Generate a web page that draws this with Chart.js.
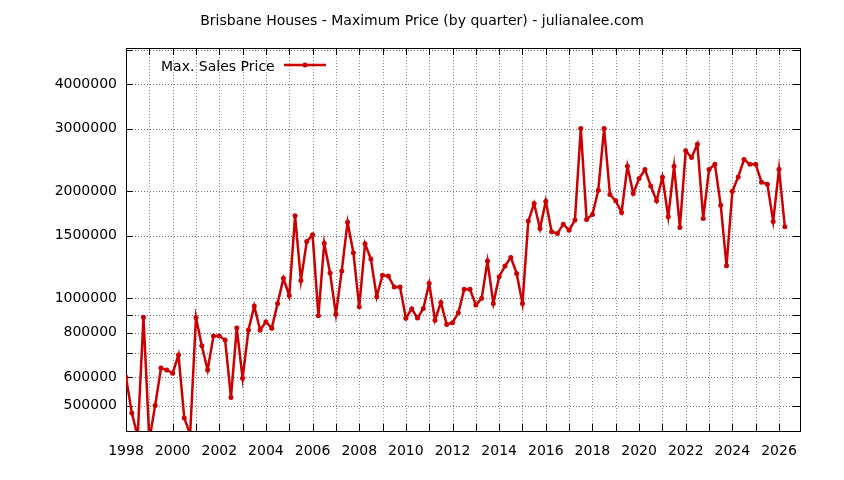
<!DOCTYPE html>
<html>
<head>
<meta charset="utf-8">
<script src="https://cdn.jsdelivr.net/npm/chart.js@4/dist/chart.umd.min.js"></script>
<style>
    html, body { margin: 0; padding: 0; background: #fff; }
    #wrap { width: 844px; height: 480px; }
</style>
</head>
<body>
<div id="wrap"><canvas id="chart" width="844" height="480"></canvas></div>
<script>
const chartTitle = 'Brisbane Houses - Maximum Price (by quarter) - julianalee.com';
const seriesName = 'Max. Sales Price';
const startYear = 1998;

// one value per quarter, 1998 Q1 .. 2026 Q2
const maxPrice = [
    600000, 476000, 410000, 885000, 400000, 500000, 637000, 629000,
    616000, 693000, 461000, 415000, 884000, 736000, 629000, 784000,
    784000, 764000, 527000, 825000, 596000, 815000, 951000, 815000,
    860000, 824000, 968000, 1138000, 1019000, 1705000, 1123000, 1445000,
    1508000, 894000, 1429000, 1178000, 902000, 1193000, 1637000, 1343000,
    947000, 1423000, 1289000, 1010000, 1162000, 1155000, 1076000, 1076000,
    879000, 935000, 880000, 937000, 1102000, 868000, 974000, 845000,
    854000, 911000, 1060000, 1060000, 958000, 1000000, 1273000, 968000,
    1150000, 1232000, 1303000, 1175000, 968000, 1648000, 1847000, 1572000,
    1875000, 1538000, 1522000, 1616000, 1554000, 1659000, 3000000, 1666000,
    1721000, 2013000, 3000000, 1958000, 1879000, 1743000, 2350000, 1971000,
    2171000, 2301000, 2070000, 1879000, 2190000, 1694000, 2350000, 1582000,
    2596000, 2487000, 2710000, 1677000, 2301000, 2381000, 1827000, 1235000,
    2000000, 2194000, 2455000, 2381000, 2381000, 2120000, 2093000, 1645000,
    2306000, 1588000
];

const xTickYears = [
    1998, 1999, 2000, 2001, 2002, 2003, 2004, 2005, 2006, 2007,
    2008, 2009, 2010, 2011, 2012, 2013, 2014, 2015, 2016, 2017,
    2018, 2019, 2020, 2021, 2022, 2023, 2024, 2025, 2026
];
const xLabelYears = [1998, 2000, 2002, 2004, 2006, 2008, 2010, 2012, 2014, 2016, 2018, 2020, 2022, 2024, 2026];

const yTickValues = [500000, 600000, 700000, 800000, 900000, 1000000, 1500000, 2000000, 3000000, 4000000, 5000000];
const yLabelValues = [500000, 600000, 800000, 1000000, 1500000, 2000000, 3000000, 4000000];

const FONT = '"DejaVu Sans", sans-serif';
const RED = '#cc0000';

const points = maxPrice.map((v, i) => ({ x: startYear + i / 4, y: v }));

// gnuplot-like frame: dotted grid, solid border, inward ticks on all four sides
const framePlugin = {
    id: 'frame',
    beforeDatasetsDraw(chart) {
        const { ctx, chartArea: a, scales } = chart;
        const xs = scales.x, ys = scales.y;
        ctx.save();
        ctx.lineWidth = 1;
        ctx.strokeStyle = '#909090';
        ctx.setLineDash([1, 2]);
        xTickYears.forEach(v => {
            const px = Math.round(xs.getPixelForValue(v)) + 0.5;
            if (px <= a.left + 1 || px >= a.right - 1) return;
            ctx.beginPath();
            ctx.moveTo(px, a.top);
            ctx.lineTo(px, a.bottom);
            ctx.stroke();
        });
        ctx.strokeStyle = '#707070';
        yTickValues.forEach(v => {
            const py = Math.round(ys.getPixelForValue(v)) + 0.5;
            if (py <= a.top + 1 || py >= a.bottom - 1) return;
            ctx.beginPath();
            ctx.moveTo(a.left, py);
            ctx.lineTo(a.right, py);
            ctx.stroke();
        });
        ctx.setLineDash([]);
        ctx.strokeStyle = '#000';
        const tick = 7;
        ctx.beginPath();
        xTickYears.forEach(v => {
            const px = Math.round(xs.getPixelForValue(v)) + 0.5;
            ctx.moveTo(px, a.bottom);
            ctx.lineTo(px, a.bottom - tick);
            ctx.moveTo(px, a.top);
            ctx.lineTo(px, a.top + tick);
        });
        yTickValues.forEach(v => {
            const py = Math.round(ys.getPixelForValue(v)) + 0.5;
            if (py < a.top) return;
            ctx.moveTo(a.left, py);
            ctx.lineTo(a.left + tick, py);
            ctx.moveTo(a.right, py);
            ctx.lineTo(a.right - tick, py);
        });
        ctx.stroke();
        ctx.strokeRect(Math.round(a.left) + 0.5, Math.round(a.top) + 0.5,
            Math.round(a.right - a.left), Math.round(a.bottom - a.top));
        ctx.restore();
    },
    afterDraw(chart) {
        const { ctx, width } = chart;
        ctx.save();
        ctx.fillStyle = '#000';
        ctx.font = '14px ' + FONT;
        ctx.textAlign = 'center';
        ctx.textBaseline = 'alphabetic';
        ctx.fillText(chartTitle, width / 2, 25);

        // key in the top-left corner
        ctx.textAlign = 'left';
        ctx.fillText(seriesName, 161, 71);
        ctx.strokeStyle = RED;
        ctx.lineWidth = 2.5;
        ctx.beginPath();
        ctx.moveTo(284, 65);
        ctx.lineTo(326, 65);
        ctx.stroke();
        ctx.fillStyle = RED;
        ctx.beginPath();
        ctx.arc(305, 65, 2.5, 0, Math.PI * 2);
        ctx.fill();
        ctx.restore();
    }
};

new Chart(document.getElementById('chart'), {
    type: 'line',
    data: {
        datasets: [{
            label: seriesName,
            data: points,
            borderColor: RED,
            backgroundColor: RED,
            borderWidth: 2.5,
            pointRadius: 2.5,
            pointBorderWidth: 0,
            pointBackgroundColor: RED,
            tension: 0,
            fill: false
        }]
    },
    options: {
        responsive: false,
        animation: false,
        devicePixelRatio: 1,
        parsing: false,
        layout: { padding: { top: 48, right: 44, left: 0, bottom: 0 } },
        plugins: {
            legend: { display: false },
            title: { display: false },
            tooltip: { enabled: false }
        },
        scales: {
            x: {
                type: 'linear',
                min: 1998,
                max: 2026.9,
                afterBuildTicks: scale => { scale.ticks = xTickYears.map(v => ({ value: v })); },
                afterFit: scale => { scale.height = 49; },
                grid: { display: false, drawTicks: false },
                border: { display: false },
                ticks: {
                    autoSkip: false,
                    maxRotation: 0,
                    padding: 12,
                    color: '#000',
                    font: { family: FONT, size: 14 },
                    callback: v => xLabelYears.includes(v) ? String(v) : ''
                }
            },
            y: {
                type: 'logarithmic',
                min: 424000,
                max: 5050000,
                afterBuildTicks: scale => { scale.ticks = yTickValues.map(v => ({ value: v })); },
                afterFit: scale => { scale.width = 126; },
                grid: { display: false, drawTicks: false },
                border: { display: false },
                ticks: {
                    autoSkip: false,
                    padding: 9,
                    color: '#000',
                    font: { family: FONT, size: 14 },
                    callback: v => yLabelValues.includes(v) ? String(v) : ''
                }
            }
        }
    },
    plugins: [framePlugin]
});
</script>
</body>
</html>
